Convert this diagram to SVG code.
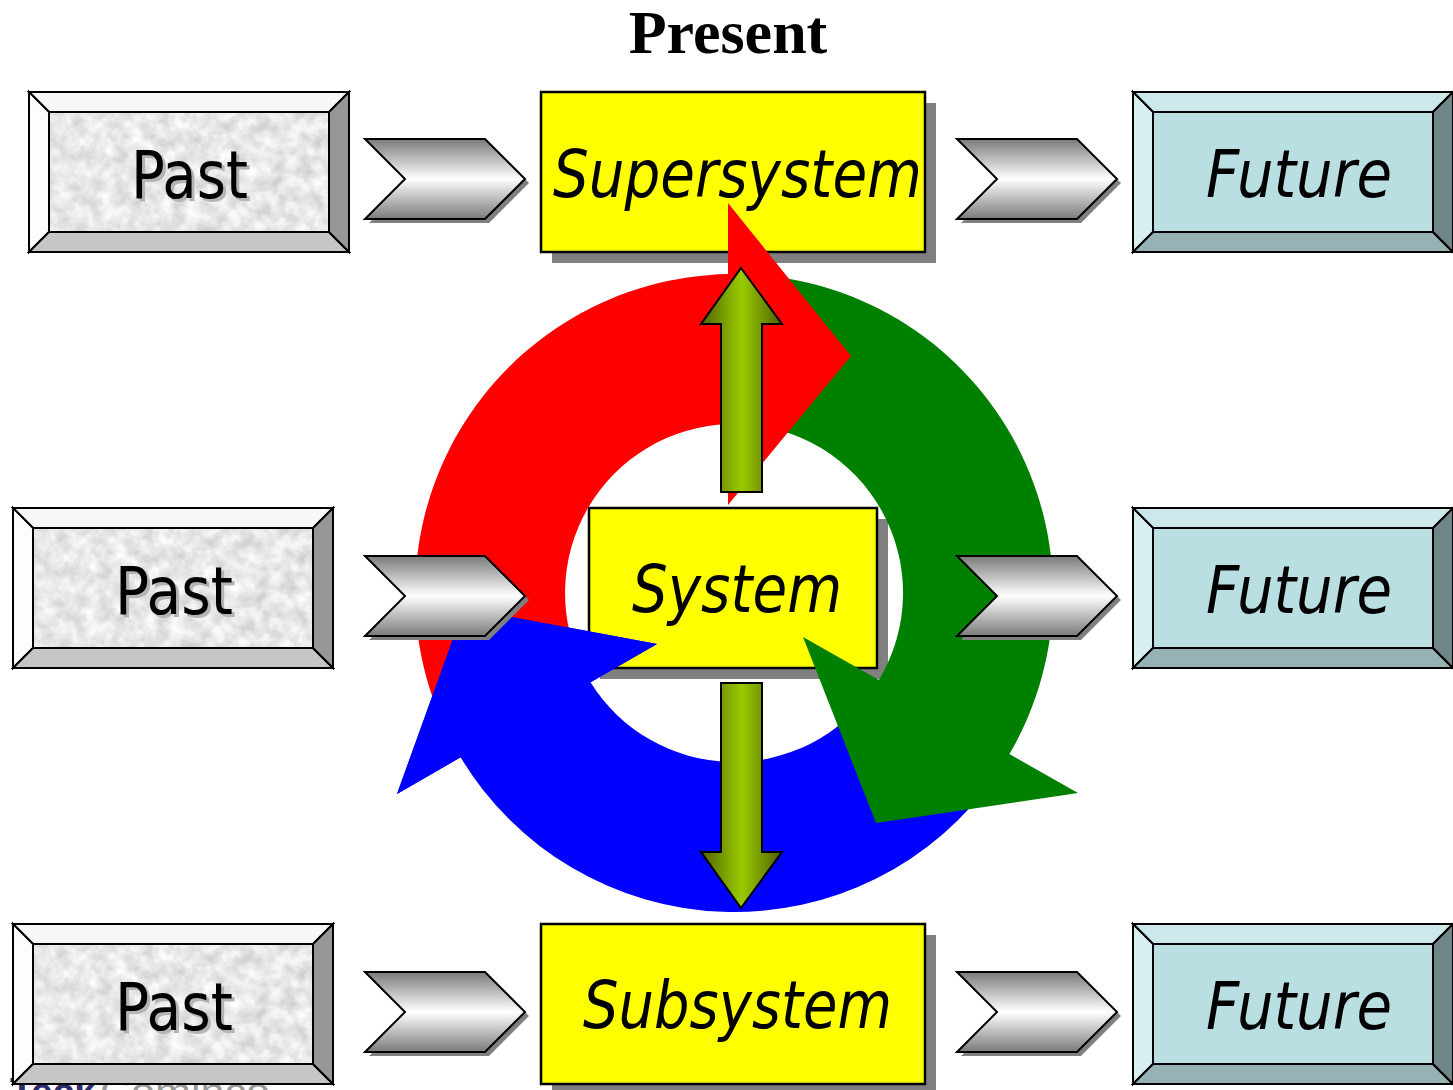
<svg xmlns="http://www.w3.org/2000/svg" width="1453" height="1090" viewBox="0 0 1453 1090">
  <defs>
    <style>
      .bev { stroke: #000; stroke-width: 2; stroke-linejoin: miter; }
      .lbl { font-family: "DejaVu Sans", "Liberation Sans", sans-serif; font-size: 65px; fill: #000; }
      .it { font-style: italic; }
      .embossed { filter: url(#textShadow); }
      .ybox { fill: #ffff00; stroke: #000; stroke-width: 2.5; }
      .shadow { fill: #808080; }
      .chev { fill: url(#chevGrad); stroke: #000; stroke-width: 2; stroke-linejoin: miter; }
      .olive { fill: url(#oliveGrad); stroke: #000; stroke-width: 2; stroke-linejoin: miter; }
    </style>
    <linearGradient id="chevGrad" x1="0" y1="0" x2="0" y2="1">
      <stop offset="0" stop-color="#7a7a7a"/>
      <stop offset="0.5" stop-color="#ffffff"/>
      <stop offset="1" stop-color="#7a7a7a"/>
    </linearGradient>
    <linearGradient id="oliveGrad" x1="0" y1="0" x2="1" y2="0">
      <stop offset="0" stop-color="#4f6000"/>
      <stop offset="0.5" stop-color="#99cc00"/>
      <stop offset="1" stop-color="#4f6000"/>
    </linearGradient>
    <!-- speckled stone face for the past panels -->
    <filter id="granite" x="0" y="0" width="1" height="1" color-interpolation-filters="sRGB">
      <feTurbulence type="fractalNoise" baseFrequency="0.07" numOctaves="4" seed="7" result="n"/>
      <feColorMatrix in="n" type="matrix" values="0.28 0 0 0 0.77  0.28 0 0 0 0.77  0.28 0 0 0 0.77  0 0 0 0 1" result="g"/>
      <feComposite in="g" in2="SourceGraphic" operator="in"/>
    </filter>
    <!-- soft grey offset shadow behind the past labels -->
    <filter id="textShadow" x="-10%" y="-10%" width="130%" height="130%" color-interpolation-filters="sRGB">
      <feOffset in="SourceAlpha" dx="3" dy="3" result="off"/>
      <feFlood flood-color="#b4b4b4"/>
      <feComposite in2="off" operator="in" result="sh"/>
      <feMerge>
        <feMergeNode in="sh"/>
        <feMergeNode in="SourceGraphic"/>
      </feMerge>
    </filter>
    <!-- bevelled panel, 320 x 160 -->
    <g id="pastBox">
      <rect x="20" y="20" width="280" height="120" fill="#e9e9e9" filter="url(#granite)"/>
      <polygon class="bev" fill="#f7f7f7" points="0,0 320,0 300,20 20,20"/>
      <polygon class="bev" fill="#fdfdfd" points="0,0 20,20 20,140 0,160"/>
      <polygon class="bev" fill="#c6c6c6" points="0,160 20,140 300,140 320,160"/>
      <polygon class="bev" fill="#979797" points="320,0 320,160 300,140 300,20"/>
      <rect class="bev" x="20" y="20" width="280" height="120" fill="none"/>
    </g>
    <g id="futureBox">
      <rect x="20" y="20" width="280" height="120" fill="#b9dfe2"/>
      <polygon class="bev" fill="#cce8eb" points="0,0 320,0 300,20 20,20"/>
      <polygon class="bev" fill="#d9eef0" points="0,0 20,20 20,140 0,160"/>
      <polygon class="bev" fill="#97b2b4" points="0,160 20,140 300,140 320,160"/>
      <polygon class="bev" fill="#6f8688" points="320,0 320,160 300,140 300,20"/>
      <rect class="bev" x="20" y="20" width="280" height="120" fill="none"/>
    </g>
    <!-- chevron connector, 160 x 80 with drop shadow -->
    <g id="chevron">
      <polygon class="shadow" points="4,4 124,4 164,44 124,84 4,84 44,44"/>
      <polygon class="chev" points="0,0 120,0 160,40 120,80 0,80 40,40"/>
    </g>
  </defs>

  <rect width="1453" height="1090" fill="#ffffff"/>

  <!-- heading -->
  <text x="728" y="53" text-anchor="middle" font-family="Liberation Serif, serif" font-weight="bold" font-size="62">Present</text>

  <!-- company mark along the lower edge -->
  <g id="logo">
    <text x="10" y="1105" font-family="Liberation Sans, sans-serif" font-weight="bold" font-size="38" fill="#2b2a6b" textLength="86" lengthAdjust="spacingAndGlyphs">Teck</text>
    <text x="100" y="1105" font-family="Liberation Sans, sans-serif" font-size="38" fill="#9a9a9a" textLength="170" lengthAdjust="spacingAndGlyphs">Cominco</text>
  </g>

  <!-- past column -->
  <g id="past-top">
    <use href="#pastBox" x="29" y="92"/>
    <text class="lbl embossed" x="131" y="198" textLength="117" lengthAdjust="spacingAndGlyphs">Past</text>
  </g>
  <g id="past-middle">
    <use href="#pastBox" x="13" y="508"/>
    <text class="lbl embossed" x="115" y="614" textLength="118" lengthAdjust="spacingAndGlyphs">Past</text>
  </g>
  <g id="past-bottom">
    <use href="#pastBox" x="13" y="924"/>
    <text class="lbl embossed" x="115" y="1030" textLength="118" lengthAdjust="spacingAndGlyphs">Past</text>
  </g>

  <!-- future column -->
  <g id="future-top">
    <use href="#futureBox" x="1133" y="92"/>
    <text class="lbl it" x="1206" y="197" textLength="186" lengthAdjust="spacingAndGlyphs">Future</text>
  </g>
  <g id="future-middle">
    <use href="#futureBox" x="1133" y="508"/>
    <text class="lbl it" x="1206" y="613" textLength="186" lengthAdjust="spacingAndGlyphs">Future</text>
  </g>
  <g id="future-bottom">
    <use href="#futureBox" x="1133" y="924"/>
    <text class="lbl it" x="1206" y="1029" textLength="186" lengthAdjust="spacingAndGlyphs">Future</text>
  </g>

  <!-- present column -->
  <g id="supersystem">
    <rect class="shadow" x="552" y="103" width="384" height="160"/>
    <rect class="ybox" x="541" y="92" width="384" height="160"/>
    <text class="lbl it" x="553" y="197" textLength="369" lengthAdjust="spacingAndGlyphs">Supersystem</text>
  </g>
  <g id="subsystem">
    <rect class="shadow" x="552" y="935" width="384" height="160"/>
    <rect class="ybox" x="541" y="924" width="384" height="160"/>
    <text class="lbl it" x="583" y="1028" textLength="309" lengthAdjust="spacingAndGlyphs">Subsystem</text>
  </g>
  <g id="system">
    <rect class="shadow" x="600" y="519" width="288" height="160"/>
    <rect class="ybox" x="589" y="508" width="288" height="160"/>
    <text class="lbl it" x="632" y="612" textLength="210" lengthAdjust="spacingAndGlyphs">System</text>
  </g>

  <!-- cycle of three curved arrows around the system -->
  <g id="cycle">
    <path fill="#0000ff" d="M 995.3 776 A 319 319 0 0 1 460.6 757.3 L 397 794 L 464 608 L 657 644 L 590.5 682.3 A 169 169 0 0 0 872.4 689.9 Z"/>
    <path fill="#008000" d="M 739.6 274.05 A 319 319 0 0 1 1009.4 754.1 L 1078 793 L 876 823 L 803 637 L 878.9 680 A 169 169 0 0 0 737 424 Z"/>
    <path fill="#ff0000" d="M 452.4 742.8 A 319 319 0 0 1 728 274.1 L 728 203 L 851 356 L 728 505 L 728 424.1 A 169 169 0 0 0 584.8 672.3 Z"/>
    <polygon fill="#0000ff" points="397,794 464,608 657,644"/>
  </g>

  <!-- connectors -->
  <g id="connectors">
    <polygon class="olive" points="741,268 782,324 762,324 762,492 721,492 721,324 701,324"/>
    <polygon class="olive" points="721,683 762,683 762,852 782,852 741,908 701,852 721,852"/>
    <use href="#chevron" x="365" y="139"/>
    <use href="#chevron" x="957" y="139"/>
    <use href="#chevron" x="365" y="556"/>
    <use href="#chevron" x="957" y="556"/>
    <use href="#chevron" x="365" y="972"/>
    <use href="#chevron" x="957" y="972"/>
  </g>
</svg>
